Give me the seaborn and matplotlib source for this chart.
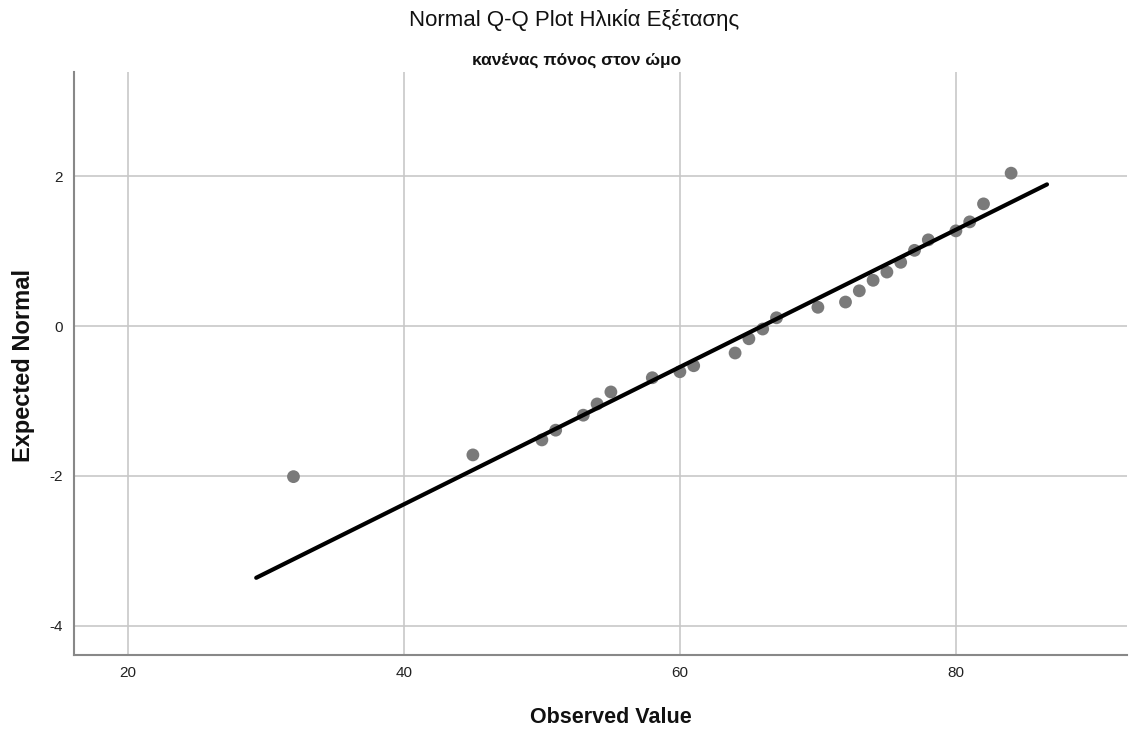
import matplotlib
matplotlib.use("Agg")
import matplotlib.pyplot as plt
import seaborn as sns
import pandas as pd

# Data
observed = [32, 45, 50, 51, 53, 54, 55, 58, 60, 61, 64, 65, 66, 67, 70, 72,
            73, 74, 75, 76, 77, 78, 80, 81, 82, 84]
expected = [-2.01, -1.72, -1.52, -1.39, -1.19, -1.04, -0.88, -0.69, -0.61, -0.53,
            -0.36, -0.17, -0.04, 0.11, 0.25, 0.32, 0.47, 0.61, 0.72, 0.85, 1.01,
            1.15, 1.27, 1.39, 1.63, 2.04]
line_x = [29.3, 86.6]
line_y = [-3.36, 1.89]
x_ticks = [20, 40, 60, 80]
y_ticks = [-4, -2, 0, 2]

title = "Normal Q-Q Plot Ηλικία Εξέτασης"
subtitle = "κανένας πόνος στον ώμο"
xlabel = "Observed Value"
ylabel = "Expected Normal"

sns.set_theme(style="white")
plt.rcParams['font.family'] = ['Liberation Sans', 'DejaVu Sans']
plt.rcParams['axes.unicode_minus'] = False

fig = plt.figure(figsize=(11.39, 7.31), dpi=100)
ax = fig.add_axes([0.065, 0.104, 0.9245, 0.7975])

pts = pd.DataFrame({"obs": observed, "exp": expected})
ln = pd.DataFrame({"x": line_x, "y": line_y})

sns.scatterplot(data=pts, x="obs", y="exp", ax=ax, color="#7a7a7a", s=85,
                edgecolor="none", zorder=3)
sns.lineplot(data=ln, x="x", y="y", ax=ax, color="black", linewidth=3.0, zorder=4)

ax.set_xlim(16.1, 92.4)
ax.set_ylim(-4.39, 3.39)
ax.set_xticks(x_ticks)
ax.set_yticks(y_ticks)
ax.set_xticklabels([str(t) for t in x_ticks])
ax.set_yticklabels([str(t) for t in y_ticks])
ax.grid(True, color="#c8c8c8", linewidth=1.2)
ax.set_axisbelow(True)
ax.tick_params(axis="both", length=0, labelsize=11, colors="#222222", pad=8)
for s in ["top", "right"]:
    ax.spines[s].set_visible(False)
for s in ["left", "bottom"]:
    ax.spines[s].set_color("#888888")
    ax.spines[s].set_linewidth(1.5)

ax.set_xlabel("")
ax.set_ylabel("")
fig.text(0.504, 0.972, title, ha="center", va="center", fontsize=16, color="#111111")
fig.text(0.506, 0.918, subtitle, ha="center", va="center", fontsize=12.5,
         fontweight="bold", color="#111111")
fig.text(0.536, 0.019, xlabel, ha="center", va="center", fontsize=15.5,
         fontweight="bold", color="#111111")
fig.text(0.021, 0.500, ylabel, ha="center", va="center", fontsize=17,
         fontweight="bold", rotation=90, color="#111111")

fig.savefig("out.png", dpi=100)
